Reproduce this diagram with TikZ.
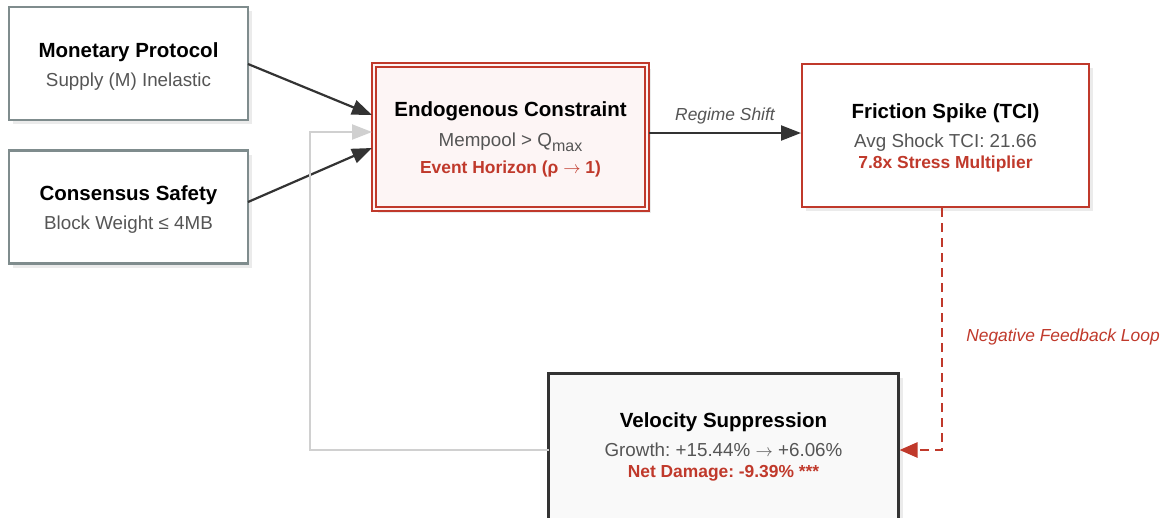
\documentclass[tikz,border=0pt]{standalone}
\usepackage{fontspec}
\setmainfont{Liberation Sans}
\usetikzlibrary{calc,arrows.meta,shadows}
\definecolor{redc}{HTML}{C0392B}
\definecolor{subc}{HTML}{555555}
\definecolor{grayb}{HTML}{7F8C8D}
\definecolor{darkb}{HTML}{333333}
\definecolor{endofill}{HTML}{FDF5F5}
\definecolor{velfill}{HTML}{F9F9F9}
\definecolor{fbgray}{HTML}{D0D0D0}
\newcommand\mytitle{\fontsize{20.5}{24}\selectfont\bfseries\color{black}}
\newcommand\mysub{\fontsize{18.8}{22}\selectfont\color{subc}}
\newcommand\myred{\fontsize{17.4}{20}\selectfont\bfseries\color{redc}}
\newcommand\mylab{\fontsize{17.4}{20}\selectfont\itshape}
\newcommand\myarrow{\ensuremath{\rightarrow}}
\frenchspacing
\begin{document}
\begin{tikzpicture}[x=1pt,y=-1pt,
  shadowed/.style={drop shadow={shadow xshift=4pt,shadow yshift=-4pt,fill=black!8,opacity=1}},
  basebox/.style={rectangle,inner sep=0pt,outer sep=0pt,shadowed},
  graybox/.style={basebox,draw=grayb,line width=2.8pt,fill=white,minimum width=239pt,minimum height=113pt},
  endobox/.style={basebox,draw=redc,double=endofill,double distance=2pt,line width=2pt,fill=endofill,minimum width=273pt,minimum height=144pt},
  fricbox/.style={basebox,draw=redc,line width=2.8pt,fill=white,minimum width=287pt,minimum height=143pt},
  velbox/.style={basebox,draw=darkb,line width=2.8pt,fill=velfill,minimum width=350pt,minimum height=200pt,anchor=north},
  txt/.style={inner sep=0pt,anchor=base},
  arr/.style={draw=darkb,line width=2.2pt,-{Triangle[length=20pt,width=15pt]}},
  fbarr/.style={draw=fbgray,line width=2.2pt,-{Triangle[length=20pt,width=15pt]}},
  negarr/.style={draw=redc,line width=2.6pt,dash pattern=on 9pt off 6pt,-{Triangle[length=18pt,width=15pt]}}
]
\useasboundingbox (0,0) rectangle (1170,517);
\clip (0,0) rectangle (1170,517);
\fill[white] (0,0) rectangle (1170,517);

% boxes
\node[graybox] (mon) at (128.5,63.5) {};
\node[graybox] (cons) at (128.5,207) {};
\node[endobox] (endo) at (510.5,137) {};
\node[fricbox] (fric) at (945.5,135.5) {};
\node[velbox] (vel) at (723.5,373.5) {};

% texts
\node[txt] (monT) at (128.5,57) {\mytitle Monetary Protocol};
\node[txt] (monS) at (128.5,86) {\mysub Supply (M) Inelastic};
\node[txt] (consT) at (128.5,200) {\mytitle Consensus Safety};
\node[txt] (consS) at (128.5,229) {\mysub Block Weight ≤ 4MB};
\node[txt] (endoT) at (510.5,116) {\mytitle Endogenous Constraint};
\node[txt] (endoS) at (510.5,146) {\mysub Mempool > Q\raisebox{-5pt}{\fontsize{16}{18}\selectfont max}};
\node[txt] (endoR) at (510.5,173) {\myred Event Horizon (ρ \myarrow{} 1)};
\node[txt] (fricT) at (945.5,118) {\mytitle Friction Spike (TCI)};
\node[txt] (fricS) at (945.5,147) {\mysub Avg Shock TCI: 21.66};
\node[txt] (fricR) at (945.5,168) {\myred 7.8x Stress Multiplier};
\node[txt] (velT) at (723.5,427) {\mytitle Velocity Suppression};
\node[txt] (velS) at (723.5,456) {\mysub Growth: +15.44\% \myarrow{} +6.06\%};
\node[txt] (velR) at (723.5,477) {\myred Net Damage: -9.39\% ***};

% connectors
\draw[arr] ($(mon.east)+(0,0.5)$) -- ($(endo.west)+(-2,-22)$);
\draw[arr] ($(cons.east)+(0,-5)$) -- ($(endo.west)+(-2,11)$);
\draw[fbarr] ($(vel.north west)+(0,76.5)$) -| ($(endo.west)+(-64,-5)$) -- ($(endo.west)+(-2,-5)$);
\draw[arr] ($(endo.east)+(2,-4)$) -- ($(fric.west)+(-1,-2.5)$) node[midway,above=8pt,text=subc,inner sep=0pt] (reg) {\mylab Regime Shift};
\draw[negarr] ($(fric.south)+(-3.5,1)$) |- ($(vel.north east)+(1,76.5)$);
\node[text=redc,inner sep=0pt] (negl) at (1063,337) {\mylab Negative Feedback Loop};
\end{tikzpicture}
\end{document}
